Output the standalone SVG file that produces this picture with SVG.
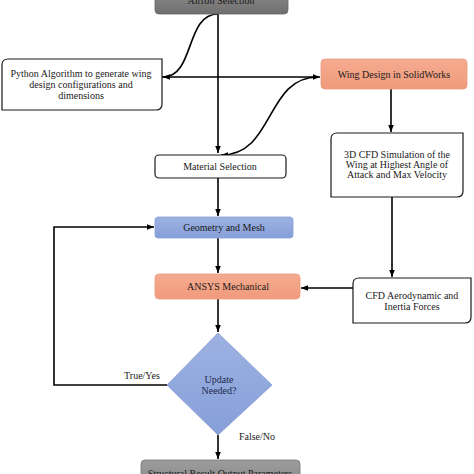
<svg xmlns="http://www.w3.org/2000/svg" width="474" height="474" viewBox="0 0 474 474">
<defs>
<linearGradient id="gGray" x1="0" y1="0" x2="0" y2="1"><stop offset="0" stop-color="#8c8c8c"/><stop offset="1" stop-color="#6f6f6f"/></linearGradient>
<linearGradient id="gGray2" x1="0" y1="0" x2="0" y2="1"><stop offset="0" stop-color="#9c9c9c"/><stop offset="1" stop-color="#8a8a8a"/></linearGradient>
<linearGradient id="gSalmon" x1="0" y1="0" x2="0" y2="1"><stop offset="0" stop-color="#f5ab8f"/><stop offset="1" stop-color="#f09a7c"/></linearGradient>
<linearGradient id="gBlue" x1="0" y1="0" x2="0" y2="1"><stop offset="0" stop-color="#9db2e2"/><stop offset="1" stop-color="#869fd8"/></linearGradient>
<marker id="ah" viewBox="0 0 10 10" refX="10" refY="5" markerWidth="7" markerHeight="7" orient="auto" markerUnits="userSpaceOnUse"><path d="M0,1 L10,5 L0,9 Z" fill="#000"/></marker>
</defs>
<style>
text{font-family:"Liberation Serif","Times New Roman",serif;font-size:10px;fill:#1a1a1a;text-anchor:middle}
.box{stroke:#1a1a1a;stroke-width:1.2;fill:#fff}
.line{fill:none;stroke:#000;stroke-width:1.6}
</style>
<rect width="474" height="474" fill="#fff"/>
<g id="connectors">
<path class="line" d="M218,14 V153" marker-end="url(#ah)"/>
<path class="line" d="M218,14 C185,14 195,77 163,77" marker-end="url(#ah)"/>
<path class="line" d="M162,77 H320" marker-end="url(#ah)"/>
<path class="line" d="M318,77 C265,77 275,155 221,155" marker-end="url(#ah)"/>
<path class="line" d="M391,89 V132" marker-end="url(#ah)"/>
<path class="line" d="M218,178 V216" marker-end="url(#ah)"/>
<path class="line" d="M218,238 V273" marker-end="url(#ah)"/>
<path class="line" d="M392,197 V277" marker-end="url(#ah)"/>
<path class="line" d="M353,288 H301" marker-end="url(#ah)"/>
<path class="line" d="M218,299 V332" marker-end="url(#ah)"/>
<path class="line" d="M167,385 H54 V227 H154" marker-end="url(#ah)"/>
<path class="line" d="M218,435 V459" marker-end="url(#ah)"/>
<text x="142" y="379">True/Yes</text>
<text x="257" y="440">False/No</text>
</g>
<g id="airfoil">
<rect x="155" y="-10" width="133" height="24" rx="4" fill="url(#gGray)" stroke="#666" stroke-width="0.8"/>
<text x="221" y="4">Airfoil Selection</text>
</g>
<g id="python">
<path class="box" d="M8,59 H162 V104 Q162,110 156,110 H2 V65 Q2,59 8,59 Z"/>
<text x="81" y="77">Python Algorithm to generate wing</text>
<text x="81" y="88">design configurations and</text>
<text x="81" y="99">dimensions</text>
</g>
<g id="wing">
<rect x="321" y="59" width="146" height="30" rx="4" fill="url(#gSalmon)" stroke="#e89a80" stroke-width="0.8"/>
<text x="394" y="78">Wing Design in SolidWorks</text>
</g>
<g id="cfd3d">
<path class="box" d="M337,133 H463 V191 Q463,197 457,197 H331 V139 Q331,133 337,133 Z"/>
<text x="397" y="158">3D CFD Simulation of the</text>
<text x="397" y="168">Wing at Highest Angle of</text>
<text x="397" y="178">Attack and Max Velocity</text>
</g>
<g id="material">
<rect class="box" x="155" y="155" width="131" height="23" rx="4"/>
<text x="220" y="170">Material Selection</text>
</g>
<g id="geometry">
<rect x="155" y="217" width="138" height="21" rx="3" fill="url(#gBlue)" stroke="#8aa0d6" stroke-width="0.8"/>
<text x="224" y="231">Geometry and Mesh</text>
</g>
<g id="ansys">
<rect x="155" y="274" width="145" height="25" rx="4" fill="url(#gSalmon)" stroke="#e89a80" stroke-width="0.8"/>
<text x="228" y="290">ANSYS Mechanical</text>
</g>
<g id="cfdaero">
<path class="box" d="M359,278 H471 V317 Q471,323 465,323 H353 V284 Q353,278 359,278 Z"/>
<text x="412" y="299">CFD Aerodynamic and</text>
<text x="412" y="310">Inertia Forces</text>
</g>
<g id="decision">
<polygon points="218,333 272,385 218,435 167,385" fill="url(#gBlue)" stroke="#8aa0d6" stroke-width="0.8"/>
<text x="219" y="383" style="fill:#1f2a4a">Update</text>
<text x="219" y="394" style="fill:#1f2a4a">Needed?</text>
</g>
<g id="structural">
<rect x="141" y="460" width="159" height="24" rx="4" fill="url(#gGray2)" stroke="#777" stroke-width="0.8"/>
<text x="220" y="477">Structural Result Output Parameters</text>
</g>
</svg>
